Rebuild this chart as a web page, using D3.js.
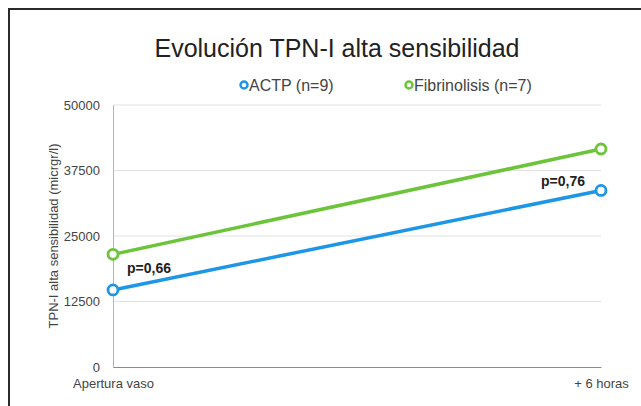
<!DOCTYPE html>
<html>
<head>
<meta charset="utf-8">
<script src="https://cdn.jsdelivr.net/npm/d3@7"></script>
<style>
  body { margin: 0; background: #fff; }
  svg { display: block; font-family: "Liberation Sans", Arial, sans-serif; }
</style>
</head>
<body>
<svg id="chart"></svg>
<script>
const categories = ["Apertura vaso", "+ 6 horas"];
const actp = [14700, 33700];
const fibrinolisis = [21500, 41600];
const yTicks = [0, 12500, 25000, 37500, 50000];
const pLabels = ["p=0,66", "p=0,76"];
const seriesNames = ["ACTP (n=9)", "Fibrinolisis (n=7)"];
const colors = ["#1e96e6", "#6cc43a"];

const width = 641, height = 406;
const margin = { top: 105, right: 40, bottom: 39, left: 113 };

const svg = d3.select("#chart")
    .attr("width", width)
    .attr("height", height);

// marco exterior (se sale del recorte por la derecha y por abajo)
svg.append("rect")
    .attr("x", 9).attr("y", 9)
    .attr("width", 660).attr("height", 420)
    .attr("fill", "none")
    .attr("stroke", "#2a2a2a")
    .attr("stroke-width", 2);

const x = d3.scalePoint()
    .domain(categories)
    .range([margin.left, width - margin.right]);

const y = d3.scaleLinear()
    .domain([0, 50000])
    .range([height - margin.bottom, margin.top]);

// rejilla
svg.append("g")
    .selectAll("line")
    .data(yTicks.filter(d => d > 0))
    .enter().append("line")
    .attr("x1", margin.left)
    .attr("x2", width - margin.right)
    .attr("y1", d => y(d))
    .attr("y2", d => y(d))
    .attr("stroke", "#e2e2e2")
    .attr("stroke-width", 1);

// eje y
const yAxis = svg.append("g")
    .attr("transform", "translate(" + margin.left + ",0)")
    .call(d3.axisLeft(y).tickValues(yTicks).tickFormat(d3.format("d")).tickSize(0).tickPadding(13));
yAxis.select(".domain").attr("stroke", "#b5b5b5");
yAxis.selectAll("text").attr("font-size", 13).attr("fill", "#444");

// eje x
const xAxis = svg.append("g")
    .attr("transform", "translate(0," + y(0) + ")")
    .call(d3.axisBottom(x).tickSize(0).tickPadding(12));
xAxis.select(".domain").attr("stroke", "#8a8a8a").attr("stroke-width", 1.2);
xAxis.selectAll("text").attr("font-size", 13).attr("fill", "#444");

// título del eje y
svg.append("text")
    .attr("transform", "translate(58," + (y(25000)) + ") rotate(-90)")
    .attr("text-anchor", "middle")
    .attr("font-size", 13)
    .attr("fill", "#444")
    .text("TPN-I alta sensibilidad (micrgr/l)");

// título
svg.append("text")
    .attr("x", 337)
    .attr("y", 57)
    .attr("text-anchor", "middle")
    .attr("font-size", 25)
    .attr("fill", "#222")
    .text("Evolución TPN-I alta sensibilidad");

// leyenda
const legendX = [244, 409];
seriesNames.forEach((name, i) => {
    svg.append("circle")
        .attr("cx", legendX[i]).attr("cy", 85).attr("r", 3.5)
        .attr("fill", "#fff")
        .attr("stroke", colors[i])
        .attr("stroke-width", 2.5);
    svg.append("text")
        .attr("x", legendX[i] + 5)
        .attr("y", 91)
        .attr("font-size", 16)
        .attr("fill", "#444")
        .text(name);
});

// líneas y marcadores
const line = d3.line()
    .x((d, i) => x(categories[i]))
    .y(d => y(d));

[actp, fibrinolisis].forEach((values, s) => {
    svg.append("path")
        .datum(values)
        .attr("d", line)
        .attr("fill", "none")
        .attr("stroke", colors[s])
        .attr("stroke-width", 3.5);

    svg.selectAll(".m" + s)
        .data(values)
        .enter().append("circle")
        .attr("class", "m" + s)
        .attr("cx", (d, i) => x(categories[i]))
        .attr("cy", d => y(d))
        .attr("r", 5)
        .attr("fill", "#fff")
        .attr("stroke", colors[s])
        .attr("stroke-width", 2.8);
});

// etiquetas p
svg.append("text")
    .attr("x", x(categories[0]) + 14)
    .attr("y", y(actp[0]) - 17)
    .attr("font-size", 14)
    .attr("font-weight", "bold")
    .attr("fill", "#222")
    .text(pLabels[0]);

svg.append("text")
    .attr("x", x(categories[1]) - 16)
    .attr("y", y(actp[1]) - 4)
    .attr("text-anchor", "end")
    .attr("font-size", 14)
    .attr("font-weight", "bold")
    .attr("fill", "#222")
    .text(pLabels[1]);
</script>
</body>
</html>
